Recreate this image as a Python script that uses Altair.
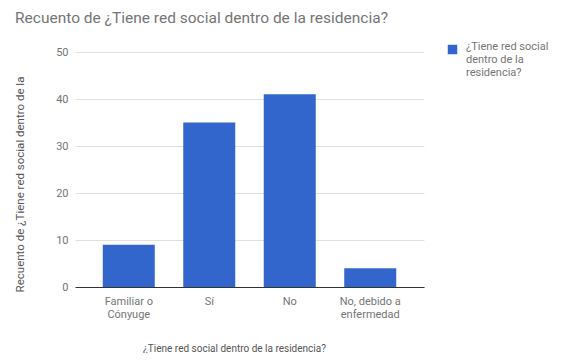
import altair as alt
import pandas as pd

categories = ["Familiar o Cónyuge", "Sí", "No", "No, debido a enfermedad"]
counts = [9, 35, 41, 4]
label_lines = [["Familiar o", "Cónyuge"], ["Sí"], ["No"], ["No, debido a", "enfermedad"]]
series_name = "¿Tiene red social dentro de la residencia?"
legend_lines = ["¿Tiene red social", "dentro de la", "residencia?"]
y_ticks = [0, 10, 20, 30, 40, 50]

df = pd.DataFrame({"cat": categories, "n": counts, "serie": [series_name] * len(categories)})

def arr(lines):
    return "[" + ",".join("'" + l.replace("'", "\\'") + "'" for l in lines) + "]"

expr = "datum.value"
for c, lines in reversed(list(zip(categories, label_lines))):
    expr = f"datum.value === '{c}' ? {arr(lines)} : ({expr})"

FONT = "Roboto"
GRAY = "#757575"

chart = alt.Chart(df).mark_bar(color="#3366CC").encode(
    x=alt.X("cat:N", sort=categories,
            scale=alt.Scale(paddingInner=0.354, paddingOuter=0.345),
            axis=alt.Axis(title=series_name, labelAngle=0, labelExpr=expr,
                          domain=False, ticks=False, labelPadding=8,
                          labelFontSize=11, labelColor=GRAY, labelFont=FONT,
                          labelLineHeight=13, labelBaseline="top",
                          titleFont=FONT, titleFontSize=10, titleFontWeight="normal",
                          titleColor="#555", titleX=159, titleY=61,
                          titleBaseline="middle")),
    y=alt.Y("n:Q", scale=alt.Scale(domain=[0, 50], nice=False),
            axis=alt.Axis(title="Recuento de ¿Tiene red social dentro de la",
                          values=y_ticks, domain=False, ticks=False, labelPadding=7,
                          labelFontSize=11, labelColor=GRAY, labelFont=FONT,
                          gridColor={"condition": {"test": "datum.value === 0", "value": "#333333"},
                                     "value": "#e0e0e0"},
                          titleFont=FONT, titleFontSize=11.5, titleFontWeight="normal",
                          titleColor="#555", titleAngle=270, titleX=-55, titleY=132,
                          titleAlign="center", titleBaseline="middle")),
    color=alt.Color("serie:N", scale=alt.Scale(range=["#3366CC"]),
                    legend=alt.Legend(title=None, orient="none", legendX=372, legendY=-8,
                                      symbolType="square", symbolSize=90,
                                      symbolStrokeWidth=0, symbolOpacity=1,
                                      labelExpr=arr(legend_lines), labelFont=FONT,
                                      labelFontSize=11, labelColor=GRAY,
                                      labelBaseline="alphabetic",
                                      labelOffset=8, labelLimit=200)),
).properties(
    width=349, height=235,
    title=alt.TitleParams("Recuento de ¿Tiene red social dentro de la residencia?",
                          anchor="start", frame="group", dx=-60, offset=18,
                          font=FONT, fontSize=15.5, fontWeight="normal", color=GRAY),
    padding={"left": 67, "top": 44, "right": 140, "bottom": 66},
    autosize=alt.AutoSizeParams(type="none"),
).configure_view(stroke=None)

chart.save("out.html", embed_options={"renderer": "svg", "actions": False})
